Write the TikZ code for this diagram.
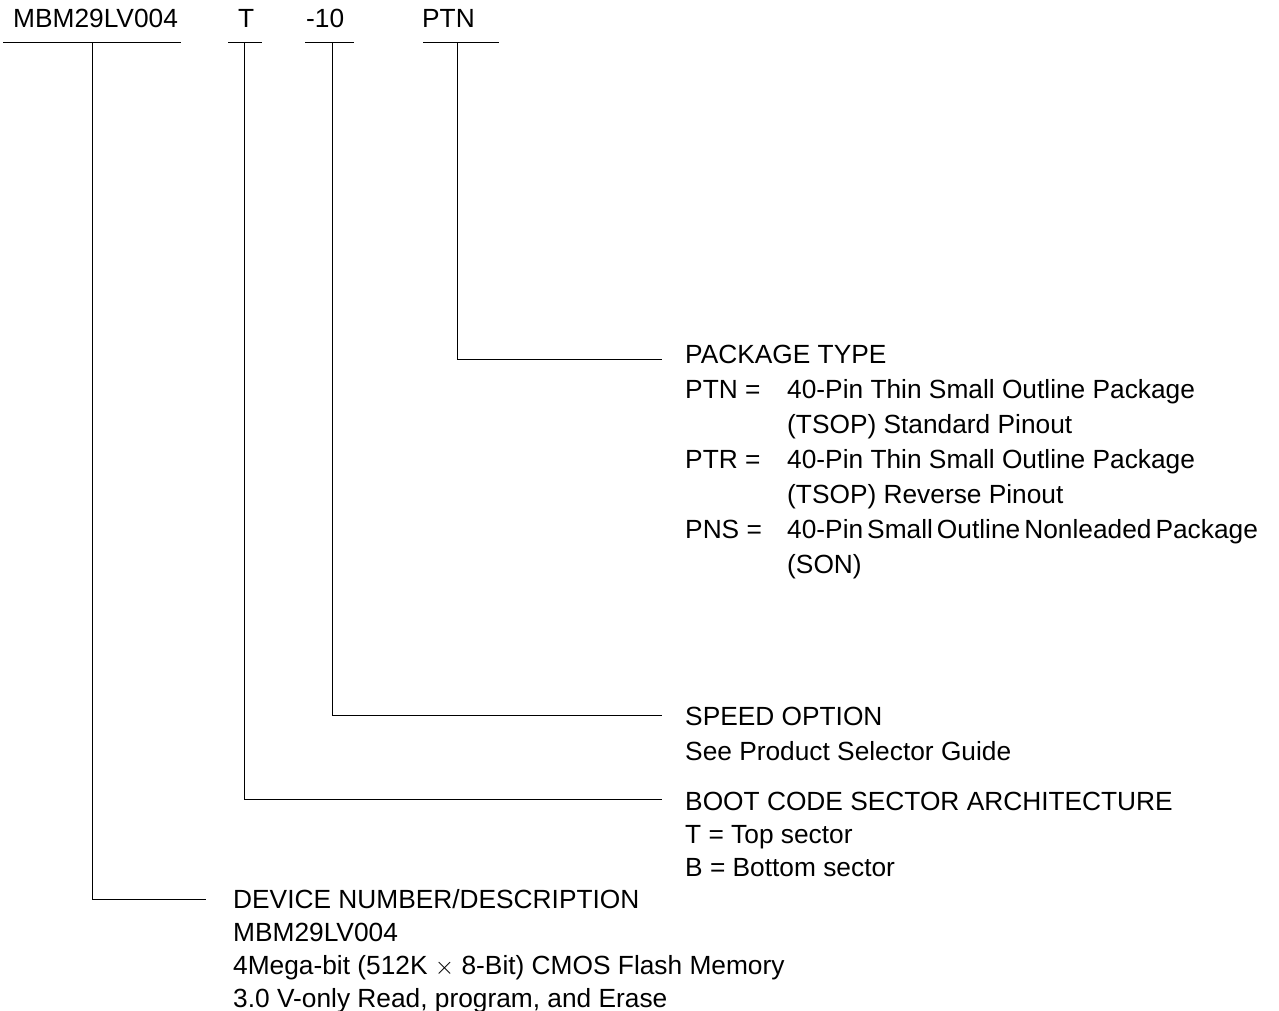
\documentclass[tikz,border=0pt]{standalone}
\usepackage{fontspec}
\setmainfont{Liberation Sans}
\begin{document}
\begin{tikzpicture}[x=1pt,y=-1pt,
  txt/.style={anchor=base west,inner sep=0pt,font=\fontsize{26.3}{30}\selectfont},
  ln/.style={line width=1pt,black}]
\useasboundingbox (0,0) rectangle (1279,1011);
% top part number
\node[txt] (pn) at (13,28) {MBM29LV004};
\node[txt] (pt) at (238,28) {T};
\node[txt] (ps) at (306,28) {-10};
\node[txt] (pp) at (422,28) {PTN};
\coordinate (u1a) at (3,43); \coordinate (u1b) at (181,43);
\coordinate (u2a) at (228,43); \coordinate (u2b) at (262,43);
\coordinate (u3a) at (305,43); \coordinate (u3b) at (354,43);
\coordinate (u4a) at (423,43); \coordinate (u4b) at (499,43);
\draw[ln] (u1a) -- (u1b);
\draw[ln] (u2a) -- (u2b);
\draw[ln] (u3a) -- (u3b);
\draw[ln] (u4a) -- (u4b);
\coordinate (v1) at (92,43); \coordinate (v2) at (244,43);
\coordinate (v3) at (332,43); \coordinate (v4) at (457,43);
% package type
\node[txt] (pk) at (685,363) {PACKAGE TYPE};
\node[txt] (pk1) at (685,398) {PTN =};
\node[txt] at (787,398) {40-Pin Thin Small Outline Package};
\node[txt] at (787,433) {(TSOP) Standard Pinout};
\node[txt] (pk2) at (685,468) {PTR =};
\node[txt] at (787,468) {40-Pin Thin Small Outline Package};
\node[txt] at (787,503) {(TSOP) Reverse Pinout};
\node[txt] (pk3) at (685,538) {PNS =};
\node[txt] at (787,538) {\spaceskip=0.55\fontdimen2\font 40-Pin Small Outline Nonleaded Package};
\node[txt] at (787,573) {(SON)};
% speed
\node[txt] (sp) at (685,725) {SPEED OPTION};
\node[txt] at (685,760) {See Product Selector Guide};
% boot
\node[txt] (bt) at (685,810) {BOOT CODE SECTOR ARCHITECTURE};
\node[txt] at (685,843) {T = Top sector};
\node[txt] at (685,876) {B = Bottom sector};
% device
\node[txt] (dv) at (233,908) {DEVICE NUMBER/DESCRIPTION};
\node[txt] at (233,941) {MBM29LV004};
\node[txt] at (233,974) {4Mega-bit (512K $\times$ 8-Bit) CMOS Flash Memory};
\node[txt] at (233,1007) {3.0 V-only Read, program, and Erase};
% end points
\coordinate (e4) at (662,359);
\coordinate (e3) at (662,715);
\coordinate (e2) at (662,799);
\coordinate (e1) at (206,899);
\draw[ln] (v4) |- (e4);
\draw[ln] (v3) |- (e3);
\draw[ln] (v2) |- (e2);
\draw[ln] (v1) |- (e1);
\end{tikzpicture}
\end{document}
